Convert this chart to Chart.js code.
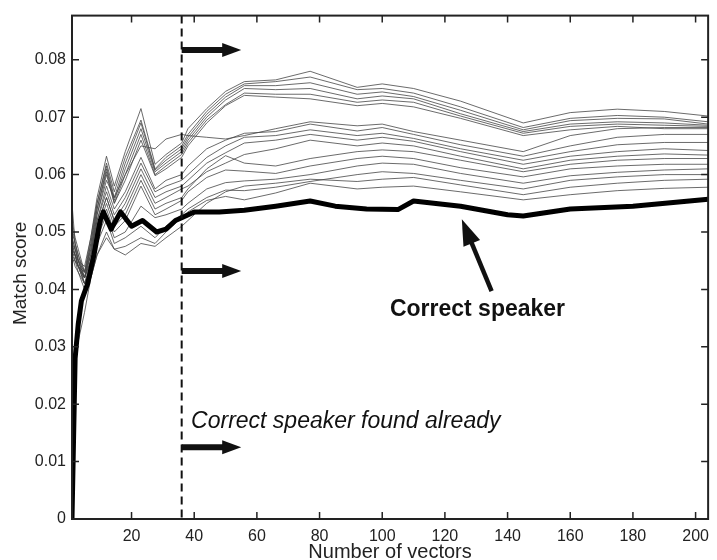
<!DOCTYPE html>
<html>
<head>
<meta charset="utf-8">
<script src="https://cdn.jsdelivr.net/npm/chart.js@4.4.0/dist/chart.umd.min.js"></script>
<style>
  html, body { margin: 0; padding: 0; background: #fff; }
  #wrap { width: 717px; height: 560px; }
</style>
</head>
<body>
<div id="wrap"><canvas id="matchchart" width="717" height="560"></canvas></div>
<script>
// correct speaker (thick curve)
const correctX = [1, 2, 3, 4, 6, 8, 10, 11, 13.5, 16.5, 20, 23.5, 28, 31, 34, 36, 40, 48, 56, 66, 77, 85, 95, 105, 110, 125, 140, 145, 160, 180, 204];
const correctY = [0.000, 0.028, 0.034, 0.038, 0.041, 0.046, 0.052, 0.0535, 0.0505, 0.0535, 0.051, 0.052, 0.050, 0.0505, 0.052, 0.0525, 0.0535, 0.0535, 0.0538, 0.0545, 0.0554, 0.0545, 0.054, 0.0539, 0.0554, 0.0545, 0.053, 0.0528, 0.054, 0.0545, 0.0557];

// impostor speakers, all read at the same vector counts
const impostorX = [1, 2, 3, 5, 7, 9, 12, 14.5, 18, 23, 27.5, 31, 36, 38, 44, 50, 56, 66, 77, 92, 100, 110, 125, 145, 160, 175, 190, 204];
const imp1 = [0.052, 0.049, 0.047, 0.043, 0.049, 0.056, 0.0632, 0.058, 0.064, 0.0715, 0.0618, 0.0635, 0.0655, 0.068, 0.0715, 0.0745, 0.0762, 0.0765, 0.0780, 0.0752, 0.0758, 0.0750, 0.0728, 0.0690, 0.0708, 0.0714, 0.0710, 0.0702];
const imp2 = [0.050, 0.048, 0.046, 0.042, 0.048, 0.055, 0.062, 0.057, 0.063, 0.0695, 0.061, 0.063, 0.065, 0.067, 0.071, 0.074, 0.0758, 0.0762, 0.0770, 0.0748, 0.0750, 0.0742, 0.0718, 0.0682, 0.0698, 0.0703, 0.0700, 0.0692];
const imp3 = [0.048, 0.047, 0.045, 0.044, 0.049, 0.055, 0.0615, 0.056, 0.062, 0.069, 0.0608, 0.0625, 0.0645, 0.0665, 0.0705, 0.0735, 0.0755, 0.0755, 0.0760, 0.0740, 0.0744, 0.0736, 0.0712, 0.0678, 0.0694, 0.0698, 0.0697, 0.0688];
const imp4 = [0.046, 0.046, 0.044, 0.042, 0.047, 0.054, 0.061, 0.0555, 0.061, 0.068, 0.0605, 0.062, 0.064, 0.066, 0.070, 0.073, 0.0750, 0.0748, 0.0750, 0.0732, 0.0737, 0.0732, 0.0706, 0.0675, 0.0688, 0.0692, 0.0690, 0.0686];
const imp5 = [0.049, 0.047, 0.045, 0.043, 0.048, 0.054, 0.0605, 0.055, 0.060, 0.067, 0.060, 0.0615, 0.0635, 0.0655, 0.0695, 0.0722, 0.0742, 0.0740, 0.0740, 0.0726, 0.0730, 0.0726, 0.0702, 0.0672, 0.0684, 0.0688, 0.0686, 0.0684];
const imp6 = [0.047, 0.045, 0.044, 0.042, 0.046, 0.053, 0.060, 0.055, 0.059, 0.066, 0.0598, 0.061, 0.063, 0.065, 0.069, 0.072, 0.0738, 0.0735, 0.0732, 0.0720, 0.0724, 0.0718, 0.0698, 0.0668, 0.0678, 0.0684, 0.0680, 0.0680];
const imp7 = [0.051, 0.048, 0.046, 0.043, 0.047, 0.053, 0.059, 0.056, 0.060, 0.065, 0.0645, 0.0662, 0.067, 0.0668, 0.0665, 0.0662, 0.0668, 0.0680, 0.0692, 0.0685, 0.0688, 0.0675, 0.0660, 0.0640, 0.0668, 0.0680, 0.0682, 0.0682];
const imp8 = [0.048, 0.046, 0.045, 0.042, 0.046, 0.052, 0.058, 0.054, 0.057, 0.063, 0.0575, 0.059, 0.060, 0.0615, 0.0645, 0.066, 0.0672, 0.0675, 0.0688, 0.0676, 0.0682, 0.0670, 0.0652, 0.0632, 0.0650, 0.0665, 0.0670, 0.0670];
const imp9 = [0.047, 0.046, 0.044, 0.043, 0.046, 0.052, 0.057, 0.053, 0.056, 0.062, 0.057, 0.058, 0.059, 0.060, 0.063, 0.065, 0.0665, 0.0668, 0.0678, 0.0668, 0.0672, 0.0663, 0.0645, 0.0625, 0.0640, 0.0652, 0.0656, 0.0656];
const imp10 = [0.049, 0.047, 0.045, 0.042, 0.045, 0.051, 0.056, 0.052, 0.055, 0.061, 0.056, 0.057, 0.058, 0.059, 0.062, 0.0638, 0.0655, 0.0660, 0.0670, 0.0660, 0.0665, 0.0658, 0.0640, 0.0618, 0.0632, 0.0640, 0.0645, 0.0642];
const imp11 = [0.046, 0.045, 0.044, 0.041, 0.045, 0.051, 0.056, 0.052, 0.054, 0.060, 0.055, 0.056, 0.0575, 0.058, 0.0605, 0.062, 0.0635, 0.0645, 0.0660, 0.0650, 0.0655, 0.0650, 0.0632, 0.0610, 0.0625, 0.0632, 0.0636, 0.0634];
const imp12 = [0.047, 0.046, 0.044, 0.042, 0.045, 0.050, 0.055, 0.051, 0.053, 0.059, 0.054, 0.055, 0.056, 0.0575, 0.061, 0.0633, 0.0620, 0.0615, 0.0628, 0.0640, 0.0643, 0.0640, 0.0625, 0.0605, 0.0618, 0.0625, 0.0628, 0.0628];
const imp13 = [0.045, 0.045, 0.043, 0.041, 0.044, 0.049, 0.054, 0.050, 0.052, 0.058, 0.053, 0.054, 0.0555, 0.057, 0.0595, 0.0608, 0.0606, 0.0602, 0.0615, 0.0628, 0.0632, 0.0628, 0.0612, 0.0596, 0.0610, 0.0615, 0.0618, 0.0618];
const imp14 = [0.048, 0.046, 0.044, 0.041, 0.044, 0.049, 0.053, 0.049, 0.050, 0.0545, 0.0525, 0.053, 0.054, 0.055, 0.0575, 0.0586, 0.0589, 0.0592, 0.0600, 0.0615, 0.0620, 0.0618, 0.0602, 0.0585, 0.0598, 0.0604, 0.0608, 0.0610];
const imp15 = [0.046, 0.044, 0.043, 0.040, 0.043, 0.048, 0.052, 0.048, 0.049, 0.051, 0.049, 0.051, 0.053, 0.054, 0.056, 0.0573, 0.0572, 0.0578, 0.0588, 0.0600, 0.0605, 0.0602, 0.0590, 0.0575, 0.0590, 0.0596, 0.0600, 0.0600];
const imp16 = [0.055, 0.048, 0.045, 0.041, 0.042, 0.046, 0.050, 0.047, 0.0475, 0.049, 0.048, 0.050, 0.0525, 0.0535, 0.0555, 0.0562, 0.0556, 0.0568, 0.0585, 0.0575, 0.0578, 0.0580, 0.0570, 0.0556, 0.0565, 0.0572, 0.0576, 0.0578];
const imp17 = [0.025, 0.029, 0.031, 0.036, 0.042, 0.046, 0.049, 0.047, 0.046, 0.048, 0.0475, 0.049, 0.051, 0.052, 0.055, 0.057, 0.058, 0.0585, 0.0592, 0.0588, 0.0592, 0.0595, 0.0582, 0.0565, 0.0578, 0.0585, 0.0590, 0.0592];
const impostors = [imp1, imp2, imp3, imp4, imp5, imp6, imp7, imp8, imp9, imp10, imp11, imp12, imp13, imp14, imp15, imp16, imp17];

const xTicks = [20, 40, 60, 80, 100, 120, 140, 160, 180, 200];
const yTicks = [0, 0.01, 0.02, 0.03, 0.04, 0.05, 0.06, 0.07, 0.08];

// annotation anchors, in data units
const foundAt = 36;
const arrowLevels = [0.0817, 0.0432, 0.0125];
const arrowEnd = 55;
const pointerFrom = [134.9, 0.0397];
const pointerTo = [125.4, 0.0522];

const FONT = '"Liberation Sans", Arial, Helvetica, sans-serif';

function toPoints(xs, ys) {
  return xs.map((v, i) => ({ x: v, y: ys[i] }));
}

function drawArrow(ctx, x1, y1, x2, y2, shaft, headLen, headW) {
  const ang = Math.atan2(y2 - y1, x2 - x1);
  const cx = Math.cos(ang), sy = Math.sin(ang);
  const bx = x2 - headLen * cx, by = y2 - headLen * sy;
  ctx.lineWidth = shaft;
  ctx.lineCap = 'butt';
  ctx.beginPath();
  ctx.moveTo(x1, y1);
  ctx.lineTo(bx + cx, by + sy);
  ctx.stroke();
  ctx.beginPath();
  ctx.moveTo(x2, y2);
  ctx.lineTo(bx - headW / 2 * sy, by + headW / 2 * cx);
  ctx.lineTo(bx + headW / 2 * sy, by - headW / 2 * cx);
  ctx.closePath();
  ctx.fill();
}

const decorations = {
  id: 'decorations',
  afterDatasetsDraw(chart) {
    const { ctx, chartArea: a, scales: { x, y } } = chart;
    ctx.save();
    ctx.strokeStyle = '#111';
    ctx.fillStyle = '#111';
    const xm = x.getPixelForValue(foundAt);
    ctx.lineWidth = 2;
    ctx.setLineDash([8, 5]);
    ctx.beginPath();
    ctx.moveTo(xm, a.top);
    ctx.lineTo(xm, a.bottom);
    ctx.stroke();
    ctx.setLineDash([]);

    arrowLevels.forEach(v => {
      const py = y.getPixelForValue(v);
      drawArrow(ctx, xm, py, x.getPixelForValue(arrowEnd), py, 6, 19, 14);
    });
    drawArrow(ctx,
      x.getPixelForValue(pointerFrom[0]), y.getPixelForValue(pointerFrom[1]),
      x.getPixelForValue(pointerTo[0]), y.getPixelForValue(pointerTo[1]), 4.5, 26, 18);

    ctx.fillStyle = '#111';
    ctx.textBaseline = 'middle';
    ctx.textAlign = 'center';
    ctx.font = 'bold 23px ' + FONT;
    ctx.fillText('Correct speaker', x.getPixelForValue(130.4), y.getPixelForValue(0.0364));
    ctx.textAlign = 'left';
    ctx.font = 'italic 23px ' + FONT;
    ctx.fillText('Correct speaker found already', x.getPixelForValue(39), y.getPixelForValue(0.0170));
    ctx.restore();
  },
  afterDraw(chart) {
    const { ctx, chartArea: a, scales: { x, y } } = chart;
    ctx.save();
    ctx.strokeStyle = '#222';
    ctx.lineWidth = 1.5;
    xTicks.forEach(v => {
      const px = x.getPixelForValue(v);
      ctx.beginPath();
      ctx.moveTo(px, a.bottom); ctx.lineTo(px, a.bottom - 7);
      ctx.moveTo(px, a.top); ctx.lineTo(px, a.top + 7);
      ctx.stroke();
    });
    yTicks.forEach(v => {
      const py = y.getPixelForValue(v);
      ctx.beginPath();
      ctx.moveTo(a.left, py); ctx.lineTo(a.left + 7, py);
      ctx.moveTo(a.right, py); ctx.lineTo(a.right - 7, py);
      ctx.stroke();
    });
    ctx.lineWidth = 2;
    ctx.strokeRect(a.left, a.top, a.right - a.left, a.bottom - a.top);

    ctx.fillStyle = '#222';
    ctx.textAlign = 'center';
    ctx.textBaseline = 'alphabetic';
    ctx.font = '20px ' + FONT;
    ctx.fillText('Number of vectors', (a.left + a.right) / 2, 558);
    ctx.translate(21, (a.top + a.bottom) / 2 + 6);
    ctx.rotate(-Math.PI / 2);
    ctx.textBaseline = 'middle';
    ctx.font = '19px ' + FONT;
    ctx.fillText('Match score', 0, 0);
    ctx.restore();
  }
};

const datasets = [{
  label: 'Correct speaker',
  data: toPoints(correctX, correctY),
  borderColor: '#000',
  borderWidth: 5,
  borderJoinStyle: 'round',
  pointRadius: 0,
  tension: 0
}];
impostors.forEach((vals, i) => {
  datasets.push({
    label: 'Speaker ' + (i + 1),
    data: toPoints(impostorX, vals),
    borderColor: 'rgba(70,70,70,0.8)',
    borderWidth: 1,
    pointRadius: 0,
    tension: 0
  });
});

const CHART = document.getElementById('matchchart');
const matchChart = new Chart(CHART, {
  type: 'line',
  data: { datasets: datasets },
  options: {
    responsive: false,
    animation: false,
    devicePixelRatio: 1,
    layout: { padding: { left: 0, top: 13, right: 3, bottom: 0 } },
    plugins: { legend: { display: false }, tooltip: { enabled: false } },
    scales: {
      x: {
        type: 'linear',
        min: 1,
        max: 204,
        grid: { display: false, drawTicks: false },
        border: { display: false },
        afterBuildTicks: s => { s.ticks = xTicks.map(v => ({ value: v })); },
        afterFit: s => { s.height = 41; },
        ticks: {
          color: '#222',
          font: { family: FONT, size: 16 },
          padding: 8,
          maxRotation: 0,
          callback: v => String(v)
        }
      },
      y: {
        type: 'linear',
        min: 0,
        max: 0.0877,
        grid: { display: false, drawTicks: false },
        border: { display: false },
        afterBuildTicks: s => { s.ticks = yTicks.map(v => ({ value: v })); },
        afterFit: s => { s.width = 72; },
        ticks: {
          color: '#222',
          font: { family: FONT, size: 16 },
          padding: 6,
          callback: v => (v === 0 ? '0' : v.toFixed(2))
        }
      }
    }
  },
  plugins: [decorations]
});
</script>
</body>
</html>
